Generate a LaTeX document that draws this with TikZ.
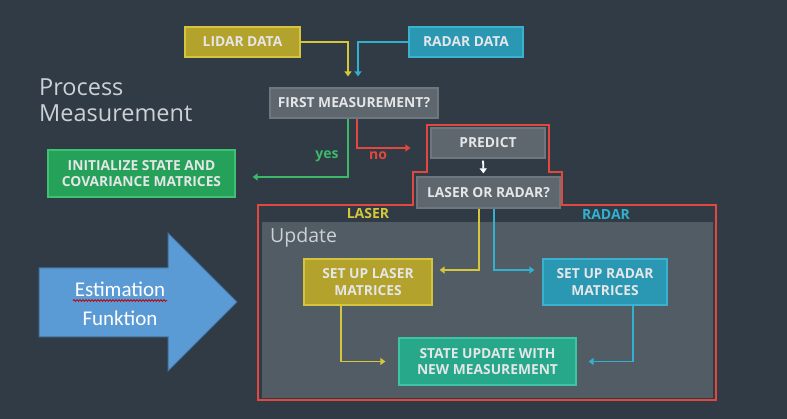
\documentclass[tikz,border=0pt]{standalone}
\usepackage{fontspec}
\setmainfont{Open Sans}
\newfontfamily\calibri{Carlito}
\usetikzlibrary{arrows.meta,decorations.pathmorphing}

\definecolor{bg}{HTML}{303B45}
\definecolor{txt}{HTML}{E4E6E8}
\definecolor{olive}{HTML}{B3A22B}
\definecolor{oliveedge}{HTML}{D4C43E}
\definecolor{teal}{HTML}{2A98B3}
\definecolor{tealedge}{HTML}{38B2CE}
\definecolor{slate}{HTML}{5E666E}
\definecolor{slateedge}{HTML}{6F777E}
\definecolor{initgreen}{HTML}{26A159}
\definecolor{initedge}{HTML}{3CC271}
\definecolor{stategreen}{HTML}{27A88B}
\definecolor{stateedge}{HTML}{3CC4A4}
\definecolor{updgray}{HTML}{525C65}
\definecolor{redline}{HTML}{E2483E}
\definecolor{yline}{HTML}{D6C73A}
\definecolor{bline}{HTML}{31B0D0}
\definecolor{gline}{HTML}{3BB86A}
\definecolor{arrowblue}{HTML}{5B9BD5}
\definecolor{arrowedge}{HTML}{41719C}
\definecolor{lighttext}{HTML}{CDD1D5}

\begin{document}
\begin{tikzpicture}[x=1pt,y=-1pt,
  box/.style={draw, line width=1.2pt, text=txt, align=center, inner sep=0pt,
    font=\fontsize{13.8}{16.5}\selectfont\bfseries},
  flow/.style={line width=1.8pt, -{Triangle[length=5pt,width=7pt]}},
  tag/.style={font=\fontsize{14}{16}\selectfont\bfseries, inner sep=0pt}
]
\fill[bg] (0,0) rectangle (787,419);
\useasboundingbox (0,0) rectangle (787,419);

% heading
\node[anchor=north west, align=left, text=lighttext, inner sep=0pt,
  font=\fontsize{23.5}{25.5}\selectfont] (title) at (39,79) {Process\\Measurement};

% update region and its red outline
\fill[updgray] (262,222) rectangle (713,398);
\draw[redline, line width=2pt, line join=miter]
  (427,125) -- (549,125) -- (549,172) -- (562,172) -- (562,205) -- (716,205)
  -- (716,400) -- (258,400) -- (258,205) -- (413,205) -- (413,172) -- (427,172) -- cycle;

\node[anchor=west, text=lighttext, inner sep=0pt, font=\fontsize{19.5}{22}\selectfont]
  (upd) at (270,237) {Update};
\node[tag, text=yline] (lasertag) at (368,214) {LASER};
\node[tag, text=bline] (radartag) at (606,214) {RADAR};

% boxes
\node[box, fill=olive, draw=oliveedge, minimum width=115, minimum height=30] (lidar) at (242.5,42) {LIDAR DATA};
\node[box, fill=teal, draw=tealedge, minimum width=114, minimum height=30] (radar) at (466,42) {RADAR DATA};
\node[box, fill=slate, draw=slateedge, minimum width=168, minimum height=30] (first) at (354,103) {FIRST MEASUREMENT?};
\node[box, fill=initgreen, draw=initedge, minimum width=187, minimum height=47] (init) at (141.5,173.5) {INITIALIZE STATE AND\\COVARIANCE MATRICES};
\node[box, fill=slate, draw=slateedge, minimum width=114, minimum height=30] (predict) at (488,143) {PREDICT};
\node[box, fill=slate, draw=slateedge, minimum width=143, minimum height=31] (lor) at (488.5,192.5) {LASER OR RADAR?};
\node[box, fill=olive, draw=oliveedge, minimum width=128, minimum height=46] (laser) at (368,282) {SET UP LASER\\MATRICES};
\node[box, fill=teal, draw=tealedge, minimum width=124, minimum height=46] (radarm) at (605,282) {SET UP RADAR\\MATRICES};
\node[box, fill=stategreen, draw=stateedge, minimum width=177, minimum height=47] (state) at (487.5,361.5) {STATE UPDATE WITH\\NEW MEASUREMENT};

% connectors
\draw[flow, yline, shorten >=11pt] (lidar.east) -| ([xshift=-6pt]first.north);
\draw[flow, bline, shorten >=11pt] (radar.west) -| ([xshift=4pt]first.north);
\draw[flow, gline, shorten >=17pt] ([xshift=-6pt]first.south) |- ([yshift=-3.5pt]init.east);
\draw[flow, redline, shorten >=20pt] ([xshift=3pt]first.south) |- ([yshift=-5pt]predict.west);
\draw[flow, white, shorten <=2pt, shorten >=3pt] ([xshift=-5pt]predict.south) -- ([xshift=-5pt]lor.north);
\draw[flow, yline, shorten >=7pt] ([xshift=-9.5pt]lor.south) |- ([yshift=12pt]laser.east);
\draw[flow, bline, shorten >=8pt] ([xshift=5.5pt]lor.south) |- ([yshift=12pt]radarm.west);
\draw[flow, yline, shorten >=13pt] ([xshift=-27pt]laser.south) |- (state.west);
\draw[flow, bline, shorten >=12pt] ([xshift=28pt]radarm.south) |- (state.east);

\node[tag, text=gline] (yes) at (327,156) {yes};
\node[tag, text=redline] (no) at (378,156) {no};

% block arrow with its caption
\draw[fill=arrowblue, draw=arrowedge, line width=1pt, line join=miter]
  (39,268) -- (168,268) -- (168,233) -- (237,302) -- (168,371) -- (168,337) -- (39,337) -- cycle;
\node[align=center, text=white, inner sep=0pt, font=\calibri\fontsize{21}{29}\selectfont]
  (est) at (120,304) {Estimation\\Funktion};
\draw[red!75!black, line width=0.8pt, decorate,
  decoration={snake, amplitude=0.9pt, segment length=3pt}] (73,300.5) -- (167,300.5);
\end{tikzpicture}
\end{document}
